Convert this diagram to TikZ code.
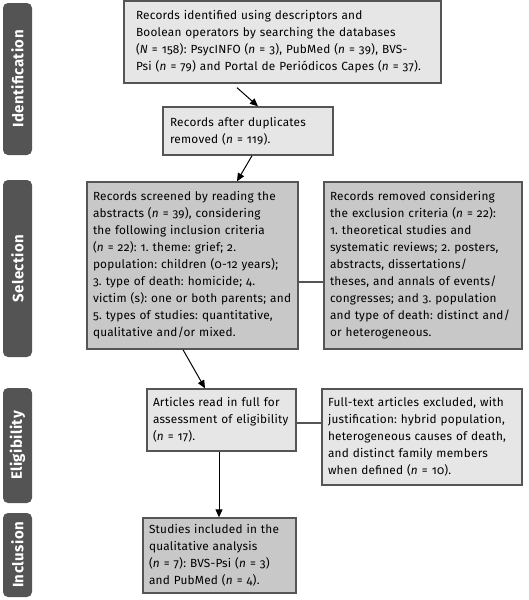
\documentclass[tikz,border=0pt]{standalone}
\usepackage{fontspec}
\setmainfont{Fira Sans}[Numbers=OldStyle,LetterSpace=2]
\newfontfamily\phasefont{Fira Sans}[LetterSpace=3]
\usetikzlibrary{arrows.meta}
\definecolor{lightbox}{HTML}{E6E6E6}
\definecolor{darkbox}{HTML}{C8C8C8}
\definecolor{barcol}{HTML}{545454}
\definecolor{edgecol}{HTML}{555555}
\frenchspacing
\begin{document}
\begin{tikzpicture}[x=1pt,y=-1pt,
 box/.style={draw=edgecol,line width=1.4pt,align=left,inner xsep=6pt,inner ysep=2pt,
   font=\frenchspacing\fontsize{11.8}{17}\selectfont,anchor=center},
 lbox/.style={box,fill=lightbox},
 dbox/.style={box,fill=darkbox},
 phase/.style={fill=barcol,rounded corners=5pt,text=white,
   font=\phasefont\bfseries\fontsize{15}{17}\selectfont,rotate=90,inner sep=0pt,
   minimum height=29pt,anchor=center},
 arr/.style={-{Triangle[length=8pt,width=7pt]},line width=1pt,draw=black},
 link/.style={line width=1.5pt,draw=edgecol}]
\useasboundingbox (0,0) rectangle (529,600);

\node[phase,minimum width=152pt] (p1) at (17.5,79) {Identification};
\node[phase,minimum width=177pt] (p2) at (17.5,268.5) {Selection};
\node[phase,minimum width=115pt] (p3) at (17.5,445.5) {Eligibility};
\node[phase,minimum width=84pt] (p4) at (17.5,555) {Inclusion};

\node[lbox,inner xsep=12pt,text width=293pt,minimum height=82pt] (b1) at (282.5,42)
{Records identified using descriptors and\\
Boolean operators by searching the databases\\
(\textit{N} = 158): PsycINFO (\textit{n} = 3), PubMed (\textit{n} = 39), BVS-\\
Psi (\textit{n} = 79) and Portal de Periódicos Capes (\textit{n} = 37).};

\node[lbox,inner xsep=7pt,text width=156pt,minimum height=48pt] (b2) at (248,131)
{Records after duplicates\\ removed (\textit{n} = 119).};

\node[dbox,text width=199pt,minimum height=167pt] (b3) at (192.5,265.5)
{Records screened by reading the\\
abstracts (\textit{n} = 39), considering\\
the following inclusion criteria\\
(\textit{n} = 22): 1. theme: grief; 2.\\
population: children (0-12 years);\\
3. type of death: homicide; 4.\\
victim (s): one or both parents; and\\
5. types of studies: quantitative,\\
qualitative and/or mixed.};

\node[dbox,text width=186pt,minimum height=167pt] (b4) at (423,265.5)
{Records removed considering\\
the exclusion criteria (\textit{n} = 22):\\
1. theoretical studies and\\
systematic reviews; 2. posters,\\
abstracts, dissertations/\\
theses, and annals of events/\\
congresses; and 3. population\\
and type of death: distinct and/\\
or heterogeneous.};

\node[lbox,text width=137pt,minimum height=62pt] (b5) at (221.5,420)
{Articles read in full for\\ assessment of eligibility\\ (\textit{n} = 17).};

\node[lbox,text width=188pt,minimum height=96pt] (b6) at (422,437)
{Full-text articles excluded, with\\ justification: hybrid population,\\ heterogeneous causes of death,\\ and distinct family members\\ when defined (\textit{n} = 10).};

\node[dbox,text width=141pt,minimum height=75pt] (b7) at (219.5,555.5)
{Studies included in the\\ qualitative analysis\\ (\textit{n} = 7): BVS-Psi (\textit{n} = 3)\\ and PubMed (\textit{n} = 4).};

\draw[arr] ([shift={(-45.5,4)}]b1.south) -- ([xshift=10pt]b2.north);
\draw[arr] ([xshift=4pt]b2.south) -- ([xshift=44.5pt]b3.north);
\draw[arr] ([xshift=-9.5pt]b3.south) -- ([xshift=-16.5pt]b5.north);
\draw[arr] ([xshift=-2.5pt]b5.south) -- ([xshift=-0.5pt]b7.north);

\coordinate (c1) at ([yshift=-16.5pt]b3.east);
\draw[link] (c1) -- (c1 -| b4.west);
\coordinate (c2) at ([yshift=-3pt]b5.east);
\draw[link] (c2) -- (c2 -| b6.west);
\end{tikzpicture}
\end{document}
